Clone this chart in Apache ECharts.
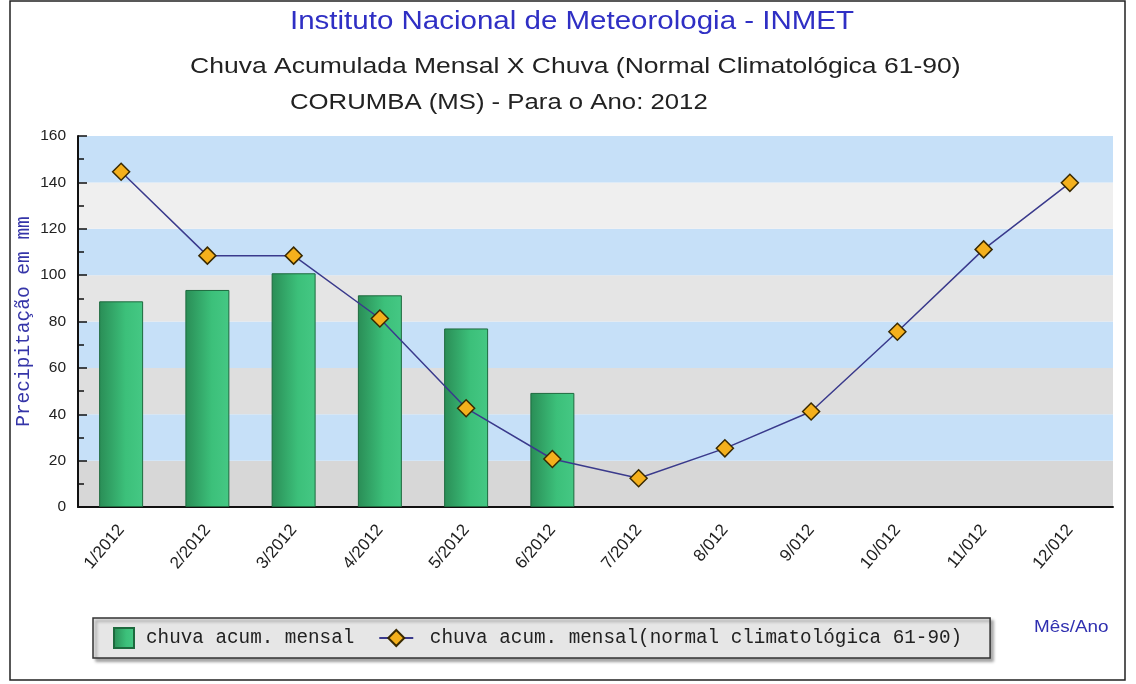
<!DOCTYPE html>
<html>
<head>
<meta charset="utf-8">
<script src="https://cdn.jsdelivr.net/npm/echarts@6/dist/echarts.min.js"></script>
<style>
  html, body { margin: 0; padding: 0; background: #fff; }
  #main { width: 1136px; height: 684px; }
</style>
</head>
<body>
<div id="main"></div>
<script>
// meses (rótulos do eixo x, como na figura original)
var meses = ['1/2012', '2/2012', '3/2012', '4/2012', '5/2012', '6/2012',
             '7/2012', '8/012', '9/012', '10/012', '11/012', '12/012'];
// chuva acumulada mensal (mm) - só até junho
var chuvaMensal = [88.7, 93.6, 100.8, 91.3, 77.0, 49.2, null, null, null, null, null, null];
// normal climatológica 61-90 (mm)
var chuvaNormal = [144.6, 108.4, 108.4, 81.3, 42.6, 20.7, 12.4, 25.3, 41.2, 75.6, 111.1, 139.8];
var yTicks = [0, 20, 40, 60, 80, 100, 120, 140, 160];

var myChart = echarts.init(document.getElementById('main'));

// texto "esticado" na horizontal como no gif original
function texto(x, y, txt, size, cor, sx) {
    return {
        type: 'text', x: x, y: y, scaleX: sx || 1.18,
        style: { text: txt, fill: cor, verticalAlign: 'top',
                 font: size + 'px "Liberation Sans", Arial, sans-serif' }
    };
}

var option = {
    backgroundColor: '#fff',
    animation: false,
    graphic: [
        {
            type: 'rect',
            shape: { x: 10, y: 1, width: 1115, height: 679 },
            style: { fill: 'none', stroke: '#222', lineWidth: 1.5 },
            z: -1
        },
        texto(290, 10, 'Instituto Nacional de Meteorologia - INMET', 25, '#2f2fc4'),
        texto(190, 56, 'Chuva Acumulada Mensal X Chuva (Normal Climatológica 61-90)', 22, '#222', 1.205),
        texto(290, 92, 'CORUMBA (MS) - Para o Ano: 2012', 22, '#222', 1.17),
        texto(1034, 620, 'Mês/Ano', 16, '#2f2fb0')
    ],
    legend: {
        left: 93,
        top: 618,
        padding: [9, 28, 9, 20],
        itemGap: 24,
        itemWidth: 34,
        itemHeight: 20,
        backgroundColor: '#e6e6e6',
        borderColor: '#333',
        borderWidth: 1.5,
        shadowColor: 'rgba(0,0,0,0.35)',
        shadowBlur: 3,
        shadowOffsetX: 3,
        shadowOffsetY: 3,
        formatter: function (name) {
            return name === 'chuva acum. mensal' ? name : ' ' + name;
        },
        textStyle: { fontFamily: '"Liberation Mono", monospace', fontSize: 19.3, color: '#222' },
        data: [
            { name: 'chuva acum. mensal', icon: 'path://M0,0H10V10H0Z' },
            { name: 'chuva acum. mensal(normal climatológica 61-90)' }
        ]
    },
    grid: { left: 78, right: 23, top: 136, bottom: 177 },
    xAxis: {
        type: 'category',
        data: meses,
        axisLine: { lineStyle: { color: '#111', width: 2 } },
        axisTick: { inside: true, length: 8, lineStyle: { color: '#111', width: 1.5 } },
        axisLabel: { rotate: 50, color: '#222', fontSize: 17, margin: 20,
                     fontFamily: '"Liberation Sans", Arial, sans-serif' }
    },
    yAxis: {
        type: 'value',
        min: yTicks[0],
        max: yTicks[yTicks.length - 1],
        interval: 20,
        name: 'Precipitação em mm',
        nameLocation: 'middle',
        nameRotate: 90,
        nameGap: 44,
        nameMoveOverlap: false,
        nameTextStyle: { color: '#3535a8', fontSize: 19.5, fontFamily: '"Liberation Mono", monospace' },
        axisLine: { show: true, lineStyle: { color: '#111', width: 2 } },
        axisTick: { show: true, inside: true, length: 9, lineStyle: { color: '#111', width: 1.5 } },
        minorTick: { show: true, splitNumber: 2, length: 6, lineStyle: { color: '#111', width: 1.5 } },
        axisLabel: { color: '#222', fontSize: 15.5, margin: 12,
                     fontFamily: '"Liberation Sans", Arial, sans-serif' },
        splitLine: { show: false },
        splitArea: {
            show: true,
            areaStyle: {
                color: ['#d7d7d7', '#c6e0f8', '#dedede', '#c6e0f8',
                        '#e5e5e5', '#c6e0f8', '#efefef', '#c6e0f8']
            }
        }
    },
    series: [
        {
            name: 'chuva acum. mensal',
            type: 'bar',
            data: chuvaMensal,
            barWidth: '51%',
            itemStyle: {
                color: new echarts.graphic.LinearGradient(0, 0, 1, 0, [
                    { offset: 0, color: '#2a8d56' },
                    { offset: 0.6, color: '#3cc07a' },
                    { offset: 1, color: '#45c884' }
                ]),
                borderColor: '#1d6a3e',
                borderWidth: 1
            }
        },
        {
            name: 'chuva acum. mensal(normal climatológica 61-90)',
            type: 'line',
            data: chuvaNormal,
            symbol: 'diamond',
            symbolSize: 17,
            lineStyle: { color: '#3a3a8c', width: 1.5 },
            itemStyle: { color: '#f4b01c', borderColor: '#3a2a00', borderWidth: 1.5 },
            z: 3
        }
    ]
};

myChart.setOption(option);
</script>
</body>
</html>
